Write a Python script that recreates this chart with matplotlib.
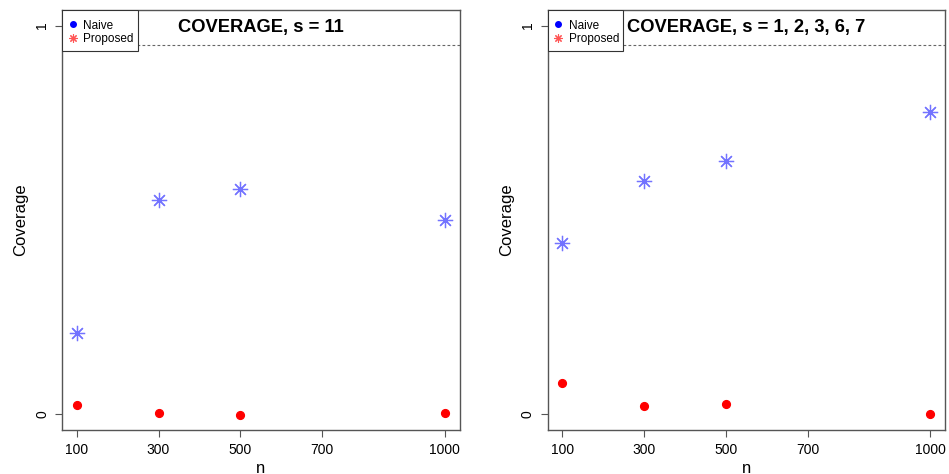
import matplotlib
matplotlib.use("Agg")
import matplotlib.pyplot as plt
from matplotlib.lines import Line2D
from matplotlib.patches import Rectangle
import matplotlib.transforms as mtransforms

plt.rcParams['font.family'] = ['Liberation Sans', 'DejaVu Sans']

n_values = [100, 300, 500, 1000]
x_ticks = [100, 300, 500, 700, 1000]
y_ticks = [0, 1]
target_level = 0.95

titles = ["COVERAGE, s = 11", "COVERAGE, s = 1, 2, 3, 6, 7"]
naive_left = [0.209, 0.551, 0.579, 0.501]
proposed_left = [0.025, 0.004, -0.002, 0.004]
naive_right = [0.442, 0.601, 0.652, 0.778]
proposed_right = [0.080, 0.022, 0.028, 0.001]
legend_labels = ['Naive', 'Proposed']

naive_series = [naive_left, naive_right]
proposed_series = [proposed_left, proposed_right]

W, H = 949, 474
fig = plt.figure(figsize=(W / 100, H / 100), dpi=100)

ax_lefts = [62, 547.5]
ax_w = 397.5
ax_top = 10
ax_bot = 430
ax_h = ax_bot - ax_top

asterisk = (8, 2, 0)
frame_col = '#555555'

for i in range(2):
    ax = fig.add_axes([ax_lefts[i] / W, 1 - ax_bot / H, ax_w / W, ax_h / H])
    ax.set_xlim(100 - 0.04 * 900, 1000 + 0.04 * 900)
    ax.set_ylim(-0.04, 1.04)
    ax.axhline(target_level, color='#666666', lw=0.8, ls=(0, (2.5, 2)), zorder=1)
    ax.plot(n_values, naive_series[i], ls='none', marker=asterisk, ms=11,
            mec='#4444ff', mew=0.9, alpha=0.75, zorder=3)
    ax.plot(n_values, proposed_series[i], ls='none', marker='o', ms=5.6,
            mfc='#ff0000', mec='#ff0000', zorder=3)
    ax.set_xticks(x_ticks)
    ax.set_xticklabels([str(v) for v in x_ticks], fontsize=10)
    ax.set_yticks(y_ticks)
    ax.set_yticklabels([str(v) for v in y_ticks], fontsize=10, rotation=90, va='center')
    ax.tick_params(axis='both', length=5, width=0.8, color=frame_col, direction='out', pad=4)
    for s in ax.spines.values():
        s.set_color(frame_col)
        s.set_linewidth(1.0)
    ax.set_xlabel('n', fontsize=12, labelpad=3)
    ax.set_ylabel('Coverage', fontsize=12, labelpad=5)
    ax.text(0.5, 0.983, titles[i],
            transform=mtransforms.blended_transform_factory(ax.transAxes, ax.transData),
            ha='center', va='baseline', fontsize=13.2, fontweight='bold', zorder=4)
    # legend frame (R style box)
    box_w = 75.5 / ax_w
    box_h = 41 / ax_h
    ax.add_patch(Rectangle((0, 1 - box_h), box_w, box_h, transform=ax.transAxes,
                           facecolor='white', edgecolor='#333333', lw=0.8, zorder=5))
    handles = [Line2D([], [], ls='none', marker='o', ms=4, mfc='blue', mec='blue'),
               Line2D([], [], ls='none', marker=asterisk, ms=6, mec='#ff5555', mew=0.8)]
    leg = ax.legend(handles, legend_labels, loc='upper left',
                    bbox_to_anchor=(6 / ax_w, 1 - 9.5 / ax_h),
                    fontsize=8.5, frameon=False, borderaxespad=0, handlelength=0.8,
                    handletextpad=0.5, borderpad=0, labelspacing=0.15)
    leg.set_zorder(6)

fig.savefig('out.png', dpi=100)
